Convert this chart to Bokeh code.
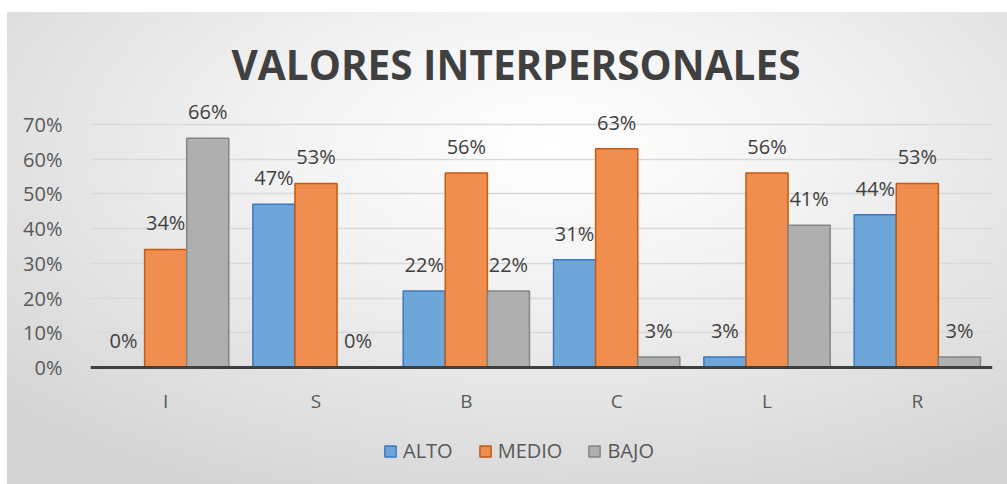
from bokeh.plotting import figure
from bokeh.models import ColumnDataSource, FactorRange, FixedTicker, PrintfTickFormatter, Legend, LegendItem
from bokeh.transform import dodge
from bokeh.embed import file_html
from bokeh.resources import INLINE
from bokeh.core.properties import value

categories = ["I", "S", "B", "C", "L", "R"]
alto = [0, 47, 22, 31, 3, 44]
medio = [34, 53, 56, 63, 56, 53]
bajo = [66, 0, 22, 3, 41, 3]
series_names = ["ALTO", "MEDIO", "BAJO"]
y_ticks = [0, 10, 20, 30, 40, 50, 60, 70]

src = ColumnDataSource(dict(
    cat=categories,
    alto=alto, medio=medio, bajo=bajo,
    alto_lbl=[f"{v}%" for v in alto],
    medio_lbl=[f"{v}%" for v in medio],
    bajo_lbl=[f"{v}%" for v in bajo],
))

bg = ("linear-gradient(#ffffff,#ffffff) top left / 100% 12px no-repeat, "
      "linear-gradient(#ffffff,#ffffff) top left / 7px 100% no-repeat, "
      "radial-gradient(ellipse 75% 80% at 55% 30%, #ffffff 0%, #f3f3f3 35%, #d4d4d4 100%)")

p = figure(
    x_range=FactorRange(factors=categories, range_padding=0),
    y_range=(-29.1, 76.9),
    width=1007, height=484,
    output_backend="svg", toolbar_location=None,
    min_border_left=90, min_border_right=15, min_border_top=100, min_border_bottom=16,
    title="VALORES INTERPERSONALES",
    styles={"background": bg},
)
p.border_fill_alpha = 0
p.background_fill_alpha = 0
p.outline_line_color = None

p.title.align = "left"
p.title.offset = 141
p.title.text_font = "Open Sans"
p.title.text_font_size = "40.5px"
p.title.text_font_style = "bold"
p.title.text_color = "#404040"
p.title.standoff = 18

FONT = "Open Sans"
w = 0.28
specs = [
    ("alto", -w, "#6fa6da", "#3a78c0"),
    ("medio", 0.0, "#ef8e4e", "#c55a11"),
    ("bajo", w, "#afafaf", "#848484"),
]
renderers = []
for (key, off, fill, line) in specs:
    r = p.vbar(x=dodge("cat", off, range=p.x_range), top=key, width=w, source=src,
               fill_color=fill, line_color=line, line_width=1.5)
    renderers.append(r)
    p.text(x=dodge("cat", off, range=p.x_range), y=key, text=key + "_lbl", source=src,
           text_align="center", text_baseline="bottom", y_offset=-13,
           text_font=value(FONT), text_font_size="20px", text_color="#404040")

p.yaxis.ticker = FixedTicker(ticks=y_ticks)
p.yaxis.formatter = PrintfTickFormatter(format="%d%%")
p.yaxis.axis_line_color = None
p.yaxis.major_tick_line_color = None
p.yaxis.minor_tick_line_color = None
p.yaxis.major_label_standoff = 22
p.yaxis.major_label_text_font = FONT
p.yaxis.major_label_text_font_size = "20px"
p.yaxis.major_label_text_color = "#595959"

p.xaxis.fixed_location = 0
p.xaxis.axis_line_color = "#404040"
p.xaxis.axis_line_width = 3
p.xaxis.major_tick_line_color = None
p.xaxis.minor_tick_line_color = None
p.xaxis.major_label_standoff = 15
p.xaxis.major_label_text_font = FONT
p.xaxis.major_label_text_font_size = "19px"
p.xaxis.major_label_text_color = "#595959"

p.xgrid.grid_line_color = None
p.ygrid.ticker = FixedTicker(ticks=y_ticks)
p.ygrid.grid_line_color = "#d9d9d9"
p.ygrid.grid_line_width = 1.5

legend = Legend(
    items=[LegendItem(label=n, renderers=[r]) for n, r in zip(series_names, renderers)],
    orientation="horizontal", location=(293, 4),
    glyph_width=14, glyph_height=14, label_standoff=6, spacing=25,
    label_text_font=FONT, label_text_font_size="20px", label_text_color="#595959",
    background_fill_alpha=0, border_line_color=None, margin=0, padding=6,
)
p.add_layout(legend)

open("out.html", "w").write(file_html(p, INLINE))
